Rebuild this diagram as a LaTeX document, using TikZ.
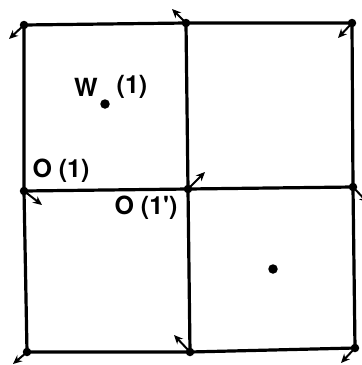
\documentclass[tikz,border=0pt]{standalone}
\usepackage{fontspec}
\setmainfont{TeX Gyre Heros}
\usetikzlibrary{arrows.meta}
\begin{document}
\begin{tikzpicture}[x=1pt,y=1pt,
  dot/.style={circle,fill=black,inner sep=0pt,minimum size=8.5pt},
  grid/.style={line width=3.2pt},
  vec/.style={line width=2pt,-{Stealth[length=9pt,width=8pt]}},
  lab/.style={font=\bfseries\fontsize{25}{27}\selectfont,inner sep=0pt}]
\useasboundingbox (0,0) rectangle (362,-365);
% lattice points
\node[dot] (tl) at (24,-25) {};
\node[dot] (tm) at (186,-23) {};
\node[dot] (tr) at (352,-23) {};
\node[dot] (ml) at (24,-191) {};
\node[dot] (mm) at (188,-189) {};
\node[dot] (mr) at (353,-187) {};
\node[dot] (bl) at (27,-352) {};
\node[dot] (bm) at (190,-352) {};
\node[dot] (br) at (355,-348) {};
% interior points
\node[dot,minimum size=9.5pt] (w) at (105,-104) {};
\node[dot,minimum size=9.5pt] (p) at (273,-269) {};
% grid
\draw[grid,line join=round] (tl.center) -- (tm.center) -- (tr.center) -- (mr.center) -- (br.center) -- (bm.center) -- (bl.center) -- (ml.center) -- cycle;
\draw[grid] (tm.center) -- (mm.center) -- (bm.center);
\draw[grid] (ml.center) -- (mm.center) -- (mr.center);
% arrow tips
\coordinate (atl) at (9,-39);
\coordinate (atm) at (172,-9);
\coordinate (atr) at (338,-38);
\coordinate (aml) at (42,-205);
\coordinate (amm) at (205,-172);
\coordinate (amr) at (368,-203);
\coordinate (abl) at (13,-364);
\coordinate (abm) at (174,-335);
\coordinate (abr) at (341,-363);
\draw[vec] (tl.center) -- (atl);
\draw[vec] (tm.center) -- (atm);
\draw[vec] (tr.center) -- (atr);
\draw[vec] (ml.center) -- (aml);
\draw[vec] (mm.center) -- (amm);
\draw[vec] (mr.center) -- (amr);
\draw[vec] (bl.center) -- (abl);
\draw[vec] (bm.center) -- (abm);
\draw[vec] (br.center) -- (abr);
% labels
\node[lab] (wl) at (86,-87) {W};
\node[lab] (wn) at (132,-87) {(1)};
\node[lab] (ol) at (61,-171) {O (1)};
\node[lab] (ol2) at (146,-208) {O (1\textquotesingle)};
\end{tikzpicture}
\end{document}
